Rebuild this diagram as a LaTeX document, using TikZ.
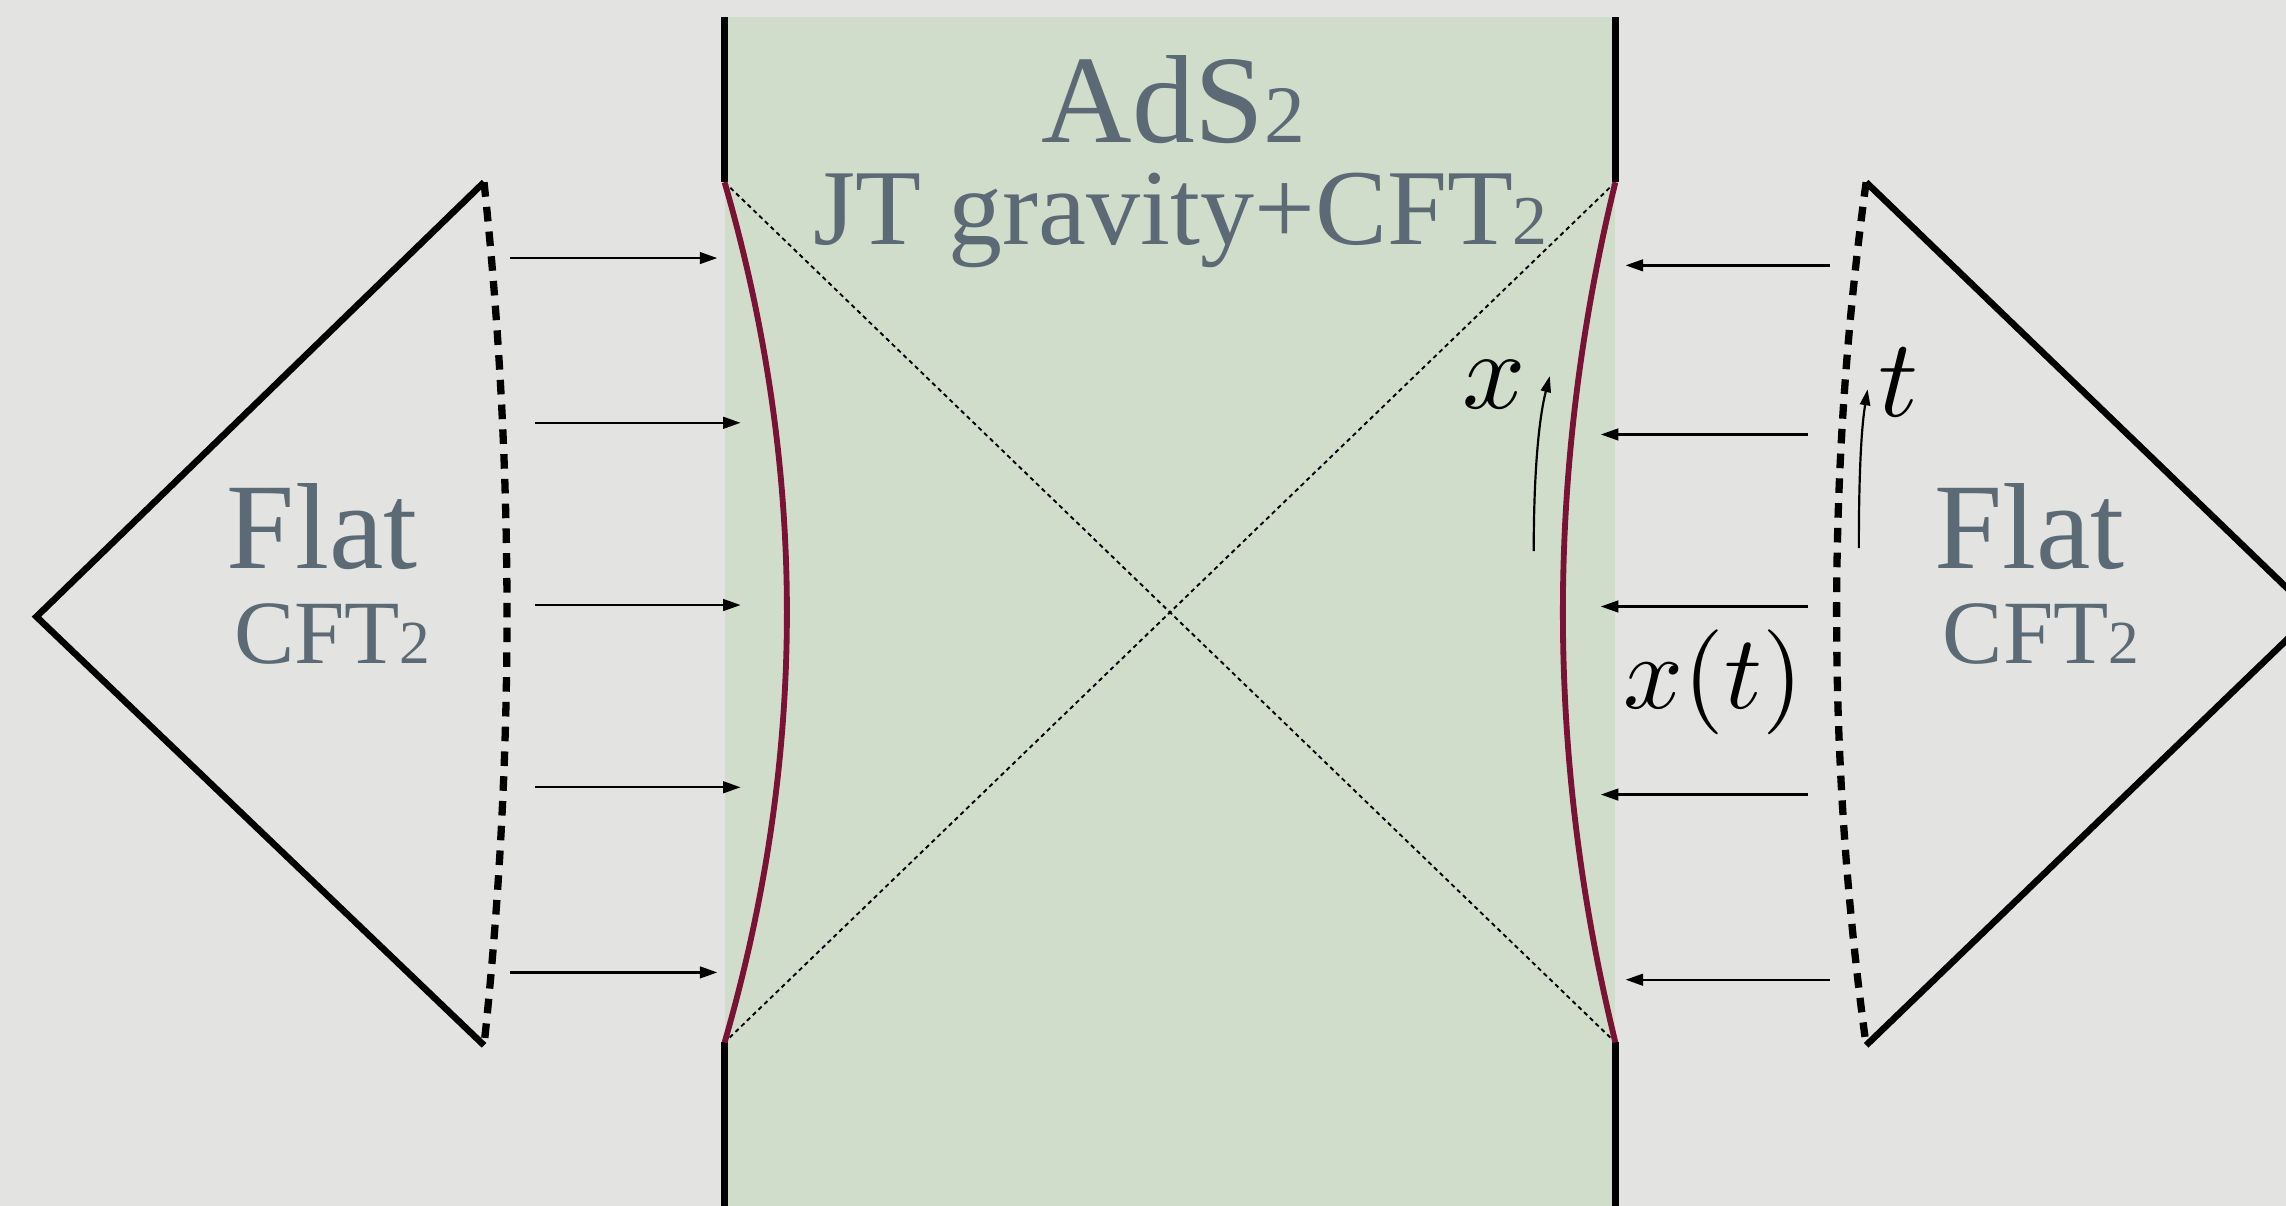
\documentclass[tikz,border=0pt]{standalone}
\usepackage{fontspec}
\newfontfamily\titlefont{Liberation Serif}
\usetikzlibrary{arrows.meta}
\definecolor{bgc}{HTML}{E3E3E1}
\definecolor{adsg}{HTML}{D1DDCB}
\definecolor{txtg}{HTML}{5B6A75}
\definecolor{bred}{HTML}{7A1236}
\newcommand{\bigmath}[1]{\scalebox{7.6}{$#1$}}
\begin{document}
\begin{tikzpicture}[x=1pt,y=-1pt,
  lbl/.style={anchor=base,inner sep=0pt,text=txtg,font=\titlefont},
  tri/.style={line width=4.5pt,line join=miter,black},
  wall/.style={line width=4.5pt,black},
  redwall/.style={line width=4pt,bred},
  dashcurve/.style={line width=5pt,dash pattern=on 10pt off 7pt,black},
  diag/.style={line width=1.3pt,dash pattern=on 3pt off 2.5pt,black},
  flow/.style={line width=1.6pt,-{Triangle[length=12pt,width=8pt]}},
  tarrow/.style={line width=1.5pt,-{Triangle[length=11pt,width=7pt]}},
  mlbl/.style={inner sep=0pt,anchor=base}]
\useasboundingbox (0,0) rectangle (1568,827);
\fill[bgc] (0,0) rectangle (1568,827);
\clip (0,0) rectangle (1568,827);
% AdS band
\fill[adsg] (497,12) rectangle (1108,830);
% corners
\coordinate (LT) at (497,125); \coordinate (LB) at (497,715);
\coordinate (RT) at (1108,125); \coordinate (RB) at (1108,715);
\coordinate (LTop) at (497,12); \coordinate (LBot) at (497,830);
\coordinate (RTop) at (1108,12); \coordinate (RBot) at (1108,830);
% black walls
\draw[wall] (LTop) -- (LT); \draw[wall] (LB) -- (LBot);
\draw[wall] (RTop) -- (RT); \draw[wall] (RB) -- (RBot);
% dotted diagonals
\draw[diag] (LT) -- (RB);
\draw[diag] (RT) -- (LB);
% red boundary curves
\draw[redwall] (LT) .. controls (554,322) and (554,518) .. (LB);
\draw[redwall] (RT) .. controls (1060,322) and (1060,518) .. (RB);
% left flat diamond
\coordinate (FLT) at (332,125); \coordinate (FLB) at (332,717); \coordinate (FLtip) at (25,423);
\draw[tri] (FLT) -- (FLtip) -- (FLB);
\draw[dashcurve] (FLT) .. controls (353,322) and (353,520) .. (FLB);
% right flat diamond
\coordinate (FRT) at (1280,125); \coordinate (FRB) at (1280,717); \coordinate (FRtip) at (1587,421);
\draw[tri] (FRT) -- (FRtip) -- (FRB);
\draw[dashcurve] (FRT) .. controls (1253,322) and (1253,520) .. (FRB);
% left arrows
\foreach \i/\y/\xa/\xb in {1/177/350/492, 2/290/367/508, 3/415/367/508, 4/540/367/508, 5/667/350/492}{
  \coordinate (la\i) at (\xa,\y); \coordinate (lb\i) at (\xb,\y);
  \draw[flow] (la\i) -- (lb\i);}
% right arrows
\foreach \i/\y/\xa/\xb in {1/182/1255/1115, 2/298/1240/1098, 3/416/1240/1098, 4/545/1240/1098, 5/672/1255/1115}{
  \coordinate (ra\i) at (\xa,\y); \coordinate (rb\i) at (\xb,\y);
  \draw[flow] (ra\i) -- (rb\i);}
% small time arrows
\coordinate (xa0) at (1052,378); \coordinate (xa1) at (1063,258);
\draw[tarrow] (xa0) .. controls (1052,320) and (1056,285) .. (xa1);
\coordinate (ta0) at (1275,376); \coordinate (ta1) at (1281,267);
\draw[tarrow] (ta0) .. controls (1275,320) and (1277,292) .. (ta1);
% math labels
\node[mlbl] (xl) at (1025,280) {\bigmath{x}};
\node[mlbl] (tl) at (1302,286) {\bigmath{t}};
\node[mlbl] (xtl) at (1175,486) {\scalebox{7.2}{$x(t)$}};
% titles
\node[lbl] (ads) at (805,98) {\fontsize{86}{90}\selectfont AdS{\fontsize{56}{60}\selectfont 2}};
\node[lbl] (jt) at (810,168) {\fontsize{74}{78}\selectfont JT gravity+CFT{\fontsize{48}{50}\selectfont 2}};
\node[lbl] (flatL) at (221,390) {\fontsize{84}{88}\selectfont Flat};
\node[lbl] (cftL) at (228,455) {\fontsize{62}{66}\selectfont CFT{\fontsize{42}{44}\selectfont 2}};
\node[lbl] (flatR) at (1392,390) {\fontsize{84}{88}\selectfont Flat};
\node[lbl] (cftR) at (1400,455) {\fontsize{62}{66}\selectfont CFT{\fontsize{42}{44}\selectfont 2}};
\end{tikzpicture}
\end{document}
